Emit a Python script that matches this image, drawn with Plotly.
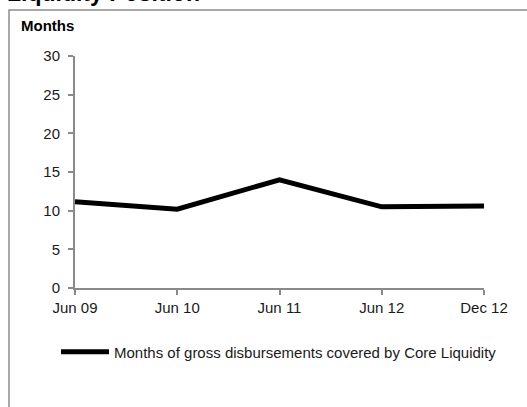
import plotly.graph_objects as go

categories = ["Jun 09", "Jun 10", "Jun 11", "Jun 12", "Dec 12"]
months_covered = [11.15, 10.2, 14.0, 10.5, 10.6]
series_name = "Months of gross disbursements covered by Core Liquidity"
y_ticks = [0, 5, 10, 15, 20, 25, 30]

W, H = 527, 407
L, R, T, B = 75, 43, 56, 119
pw, ph = W - L - R, H - T - B


def px_x(x):
    return (x - L) / pw


def px_y(y):
    return (H - B - y) / ph


FONT = "Liberation Sans, Arial, sans-serif"
AXIS = "#8a8a8a"

fig = go.Figure()
fig.add_trace(go.Scatter(
    x=list(range(len(categories))), y=months_covered, mode="lines",
    name=series_name, line=dict(color="black", width=5),
))

fig.update_layout(
    width=W, height=H,
    margin=dict(l=L, r=R, t=T, b=B),
    paper_bgcolor="white", plot_bgcolor="white",
    font=dict(family=FONT, size=15, color="#1a1a1a"),
    showlegend=True,
    legend=dict(x=px_x(56), y=px_y(352), xanchor="left", yanchor="middle",
                font=dict(size=15), bgcolor="rgba(0,0,0,0)", itemwidth=48),
    xaxis=dict(range=[0, len(categories) - 1], tickvals=list(range(len(categories))),
               ticktext=categories, showgrid=False, zeroline=False,
               showline=True, linecolor=AXIS, linewidth=2,
               ticks="outside", ticklen=5, tickcolor=AXIS, tickwidth=1.5),
    yaxis=dict(range=[0, 30], tickvals=y_ticks, showgrid=False, zeroline=False,
               showline=True, linecolor=AXIS, linewidth=2,
               ticks="outside", ticklen=5, tickcolor=AXIS, tickwidth=1.5,
               ticklabelstandoff=5),
    shapes=[dict(type="rect", xref="paper", yref="paper",
                 x0=px_x(9), x1=px_x(540), y0=px_y(420), y1=px_y(10),
                 line=dict(color="#8c8c8c", width=1.5), fillcolor="rgba(0,0,0,0)", layer="below")],
    annotations=[
        dict(text="<b>Liquidity Position</b>", xref="paper", yref="paper",
             x=px_x(5), y=px_y(8), xanchor="left", yanchor="bottom",
             showarrow=False, font=dict(size=23, color="black")),
        dict(text="<b>Months</b>", xref="paper", yref="paper",
             x=px_x(19), y=px_y(25), xanchor="left", yanchor="middle",
             showarrow=False, font=dict(size=15, color="black")),
    ],
)

fig.write_html("out.html")
